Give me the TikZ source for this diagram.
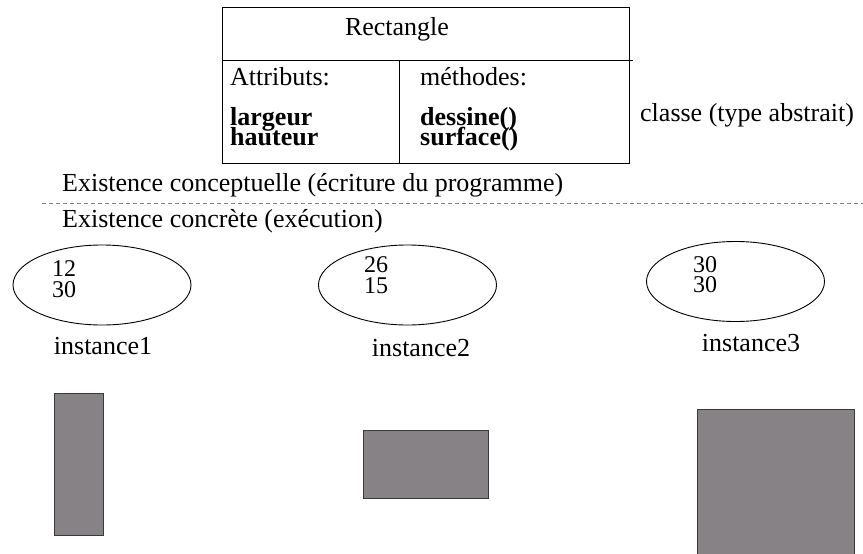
\documentclass[tikz,border=0pt]{standalone}
\usepackage{fontspec}
\setmainfont{Liberation Serif}
\usetikzlibrary{shapes.geometric}
\definecolor{boxgray}{HTML}{878285}
\definecolor{edgegray}{HTML}{3A3A3A}
\tikzset{
  txt/.style={inner sep=0pt, anchor=base west, font=\fontsize{26}{26}\selectfont},
  btxt/.style={txt, font=\fontsize{26}{26}\selectfont\bfseries},
  dig/.style={inner sep=0pt, anchor=base west, font=\fontsize{24}{24}\selectfont},
  lbl/.style={inner sep=0pt, anchor=base, font=\fontsize{26}{26}\selectfont},
  inst/.style={ellipse, draw, line width=0.9pt, inner sep=0pt, minimum width=178pt, minimum height=80pt},
  obj/.style={draw=edgegray, fill=boxgray, line width=1.2pt, inner sep=0pt, anchor=north west},
  frame/.style={line width=1pt}
}
\begin{document}
\begin{tikzpicture}[x=1pt,y=-1pt]
\useasboundingbox (0,0) rectangle (863,554);
% class box
\node[draw, frame, inner sep=0pt, minimum width=407pt, minimum height=156pt, anchor=north west] (cls) at (222,7) {};
\coordinate (midL) at (222,60);
\coordinate (midR) at (633,60);
\coordinate (divT) at (399,60);
\coordinate (divB) at (399,163);
\draw[frame] (midL) -- (midR);
\draw[frame] (divT) -- (divB);
\node[lbl] (title) at (397,35) {Rectangle};
\node[txt] (attr) at (230,85) {Attributs:};
\node[txt] (meth) at (420,85) {méthodes:};
\node[btxt] (larg) at (230,125) {largeur};
\node[btxt] (haut) at (230,145) {hauteur};
\node[btxt] (dess) at (420,125) {dessine()};
\node[btxt] (surf) at (420,145) {surface()};
\node[txt] (classe) at (640,121) {classe (type abstrait)};
% separator
\node[txt] (concept) at (62,191) {Existence conceptuelle (écriture du programme)};
\coordinate (dashL) at (42,203);
\coordinate (dashR) at (863,203);
\draw[gray, line width=1pt, dash pattern=on 4pt off 3pt] (dashL) -- (dashR);
\node[txt] (concret) at (62,227) {Existence concrète (exécution)};
% instances
\node[inst] (e1) at (102,285) {};
\node[dig] (e1a) at (52,276) {12};
\node[dig] (e1b) at (52,297) {30};
\node[lbl] (i1) at (103,354) {instance1};
\node[inst] (e2) at (407.5,285) {};
\node[dig] (e2a) at (364,272) {26};
\node[dig] (e2b) at (364,293) {15};
\node[lbl] (i2) at (421,356) {instance2};
\node[inst] (e3) at (735.5,281.5) {};
\node[dig] (e3a) at (693,272) {30};
\node[dig] (e3b) at (693,292) {30};
\node[lbl] (i3) at (751,351) {instance3};
% objects
\node[obj, minimum width=49pt, minimum height=142pt] (r1) at (54,393) {};
\node[obj, minimum width=125pt, minimum height=68pt] (r2) at (363,430) {};
\node[obj, minimum width=157pt, minimum height=145pt] (r3) at (697,409) {};
\end{tikzpicture}
\end{document}
